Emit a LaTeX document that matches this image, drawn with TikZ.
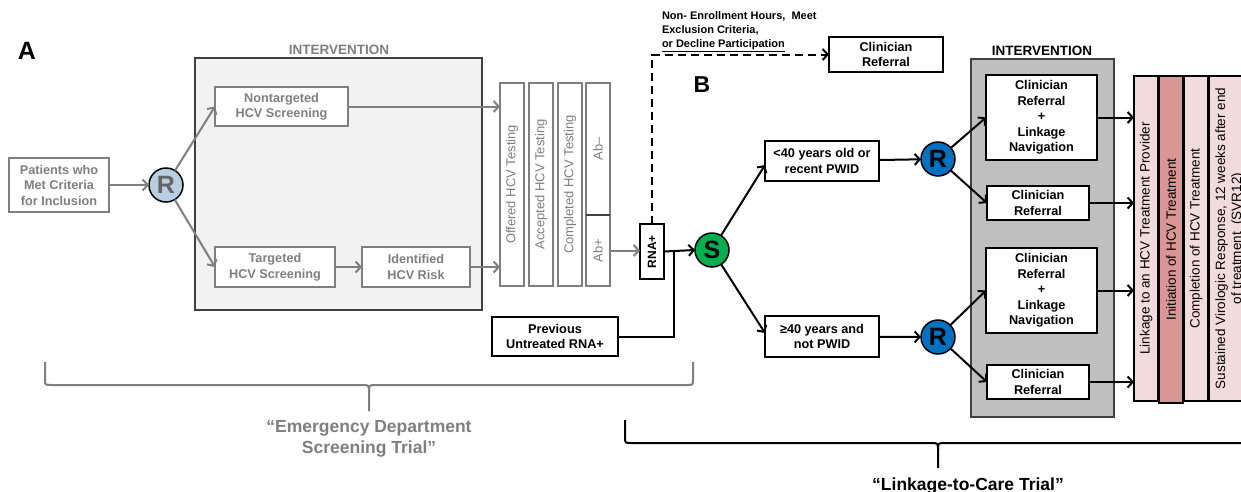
\documentclass[tikz,border=0pt]{standalone}
\usepackage{fontspec}
\setmainfont{Liberation Sans}
\usetikzlibrary{arrows.meta,calc}
\definecolor{gtxt}{HTML}{7F7F7F}
\definecolor{gfillA}{HTML}{F2F2F2}
\definecolor{gfillB}{HTML}{BFBFBF}
\definecolor{dborder}{HTML}{404040}
\definecolor{lblue}{HTML}{B9CDE5}
\definecolor{rblue}{HTML}{0070C0}
\definecolor{sgreen}{HTML}{00B050}
\definecolor{lpink}{HTML}{F2DCDB}
\definecolor{dpink}{HTML}{D99694}
\tikzset{
 every node/.style={inner sep=0pt, outer sep=0pt},
 fbox/.style={draw, line width=2pt, fill=white, align=center, font=\bfseries\fontsize{12.7}{15.5}\selectfont},
 gbox/.style={fbox, draw=gtxt, text=gtxt},
 bbox/.style={fbox, draw=black, text=black},
 gbar/.style={draw=gtxt, line width=2pt, fill=white, text=gtxt, font=\fontsize{13}{15}\selectfont, minimum width=24pt},
 pbar/.style={draw=black, line width=1.5pt, fill=lpink, font=\fontsize{13.5}{16}\selectfont, minimum width=24pt, minimum height=325pt},
 circ/.style={circle, draw=black, line width=1.5pt, minimum size=34pt, font=\bfseries\fontsize{25}{25}\selectfont},
 arrowhd/.style={-{Straight Barb[length=5pt,width=11pt,line width=2pt]}},
 garr/.style={draw=gtxt, line width=2pt, arrowhd},
 barr/.style={draw=black, line width=2pt, arrowhd},
 lbl/.style={font=\bfseries\fontsize{13.5}{16}\selectfont},
}
\begin{document}
\begin{tikzpicture}[x=1pt,y=-1pt]
\useasboundingbox (0,0) rectangle (1241,491);
\clip (0,0) rectangle (1241,491);
\fill[white] (0,0) rectangle (1241,491);

% ---------- Panel A ----------
\node[font=\bfseries\fontsize{25}{25}\selectfont] (labA) at (27,51) {A};
\node[draw=dborder, fill=gfillA, line width=1.5pt, minimum width=287pt, minimum height=252pt] (intA) at (338.5,184) {};
\node[lbl, text=gtxt] (intAlab) at (339,50) {INTERVENTION};

\node[gbox, minimum width=100pt, minimum height=54pt] (pat) at (59,185) {Patients who\\Met Criteria\\for Inclusion};
\node[circ, fill=lblue, text=gtxt!80!black] (Rg) at (166,185) {R};
\node[gbox, minimum width=133pt, minimum height=39pt] (nont) at (281.5,106.5) {Nontargeted\\HCV Screening};
\node[gbox, minimum width=120pt, minimum height=40pt] (targ) at (275,267) {Targeted\\HCV Screening};
\node[gbox, minimum width=108pt, minimum height=40pt] (iden) at (416,267) {Identified\\HCV Risk};

\node[gbar, minimum height=203pt] (off) at (512,184.5) {\rotatebox{90}{Offered HCV Testing}};
\node[gbar, minimum height=203pt] (acc) at (541,184.5) {\rotatebox{90}{Accepted HCV Testing}};
\node[gbar, minimum height=203pt] (comp) at (570,184.5) {\rotatebox{90}{Completed HCV Testing}};
\node[gbar, minimum height=132pt] (abm) at (598,149) {\rotatebox{90}{Ab–}};
\node[gbar, minimum height=71pt] (abp) at (598,250.5) {\rotatebox{90}{Ab+}};
\draw[dborder, line width=1.5pt] (abm.south west) -- (abm.south east);

\draw[garr] (pat) -- (Rg);
\draw[garr] (Rg) -- (nont.west);
\draw[garr] (Rg) -- (targ.west);
\draw[garr] (targ) -- (iden);
\draw[garr] (nont.east) -- (nont.east -| off.west);
\draw[garr] (iden.east) -- (iden.east -| off.west);

% ---------- Link between ----------
\node[bbox, minimum width=24pt, minimum height=55pt, font=\bfseries\fontsize{12}{14}\selectfont] (rna) at (652,251.5) {\rotatebox{90}{RNA+}};
\draw[garr] (abp.east) -- (abp.east -| rna.west);
\node[bbox, minimum width=126pt, minimum height=39pt] (prev) at (555,336.5) {Previous\\Untreated RNA+};
\coordinate (j) at (674,251.5);
\draw[black, line width=2pt] (prev.east) -| (j);

\node[bbox, minimum width=114pt, minimum height=35pt] (cref) at (886,54.5) {Clinician\\Referral};
\draw[barr, dash pattern=on 8pt off 5pt] (rna.north) |- (cref.west);
\node[anchor=north west, align=left, font=\bfseries\fontsize{11}{14}\selectfont] (note) at (662,12) {Non- Enrollment Hours,\ \ Meet\\Exclusion Criteria,\\\underline{or Decline Participation}};

% ---------- Panel B ----------
\node[font=\bfseries\fontsize{23}{23}\selectfont] (labB) at (702,85) {B};
\node[circ, fill=sgreen] (S) at (712,250) {S};
\draw[barr] (rna.east) -- (S.west);
\node[bbox, minimum width=114pt, minimum height=40pt] (lt40) at (822,161) {<40 years old or\\recent PWID};
\node[bbox, minimum width=114pt, minimum height=41pt] (ge40) at (822,336.5) {≥40 years and\\not PWID};
\draw[barr] (S) -- ([yshift=-4pt]lt40.west);
\draw[barr] (S) -- ([yshift=3.5pt]ge40.west);
\node[circ, fill=rblue] (Rb1) at (938,159) {R};
\node[circ, fill=rblue] (Rb2) at (938,337) {R};
\draw[barr] (lt40) -- (Rb1);
\draw[barr] (ge40) -- (Rb2);

\node[draw=dborder, fill=gfillB, line width=2pt, minimum width=143pt, minimum height=358pt] (intB) at (1042.5,238) {};
\node[lbl] (intBlab) at (1042,51) {INTERVENTION};
\node[bbox, minimum width=111pt, minimum height=85pt] (crln1) at (1041.5,117.5) {Clinician\\Referral\\+\\Linkage\\Navigation};
\node[bbox, minimum width=102pt, minimum height=34pt] (cr1) at (1038,203) {Clinician\\Referral};
\node[bbox, minimum width=111pt, minimum height=85pt] (crln2) at (1041.5,290.5) {Clinician\\Referral\\+\\Linkage\\Navigation};
\node[bbox, minimum width=102pt, minimum height=34pt] (cr2) at (1038,382) {Clinician\\Referral};
\draw[barr] (Rb1) -- (crln1.west);
\draw[barr] (Rb1) -- (cr1.west);
\draw[barr] (Rb2) -- (crln2.west);
\draw[barr] (Rb2) -- (cr2.west);

\node[pbar] (bar1) at (1146,238.5) {\rotatebox{90}{Linkage to an HCV Treatment Provider}};
\node[pbar, fill=dpink, line width=2.5pt, minimum height=327pt] (bar2) at (1171,239.5) {\rotatebox{90}{Initiation of HCV Treatment}};
\node[pbar] (bar3) at (1196,238.5) {\rotatebox{90}{Completion of HCV Treatment}};
\node[pbar, line width=2.5pt, minimum width=42pt] (bar4) at (1230,238.5) {\rotatebox{90}{\begin{tabular}{@{}c@{}}Sustained Virologic Response, 12 weeks after end\\of treatment\ \ (SVR12)\end{tabular}}};

\draw[barr] (crln1.east) -- (crln1.east -| bar1.west);
\draw[barr] (cr1.east) -- (cr1.east -| bar1.west);
\draw[barr] (crln2.east) -- (crln2.east -| bar1.west);
\draw[barr] (cr2.east) -- (cr2.east -| bar1.west);

% ---------- Braces ----------
\draw[gtxt, line width=2pt] (45,362) -- (45,379) .. controls (45,385) .. (51,385) -- (362,385) .. controls (369,385) .. (369,392) -- (369,411);
\draw[gtxt, line width=2pt] (369,392) .. controls (369,385) .. (376,385) -- (687,385) .. controls (693,385) .. (693,379) -- (693,362);
\node[text=gtxt, align=center, font=\bfseries\fontsize{17.5}{21}\selectfont] (edlab) at (369,438.5) {“Emergency Department\\Screening Trial”};

\draw[black, line width=2pt] (625,420) -- (625,437) .. controls (625,443) .. (631,443) -- (931,443) .. controls (938,443) .. (938,450) -- (938,468);
\draw[black, line width=2pt] (938,450) .. controls (938,443) .. (945,443) -- (1245,443) .. controls (1251,443) .. (1251,437) -- (1251,420);
\node[font=\bfseries\fontsize{17.5}{21}\selectfont] (ltclab) at (968,486) {“Linkage-to-Care Trial”};
\end{tikzpicture}
\end{document}
